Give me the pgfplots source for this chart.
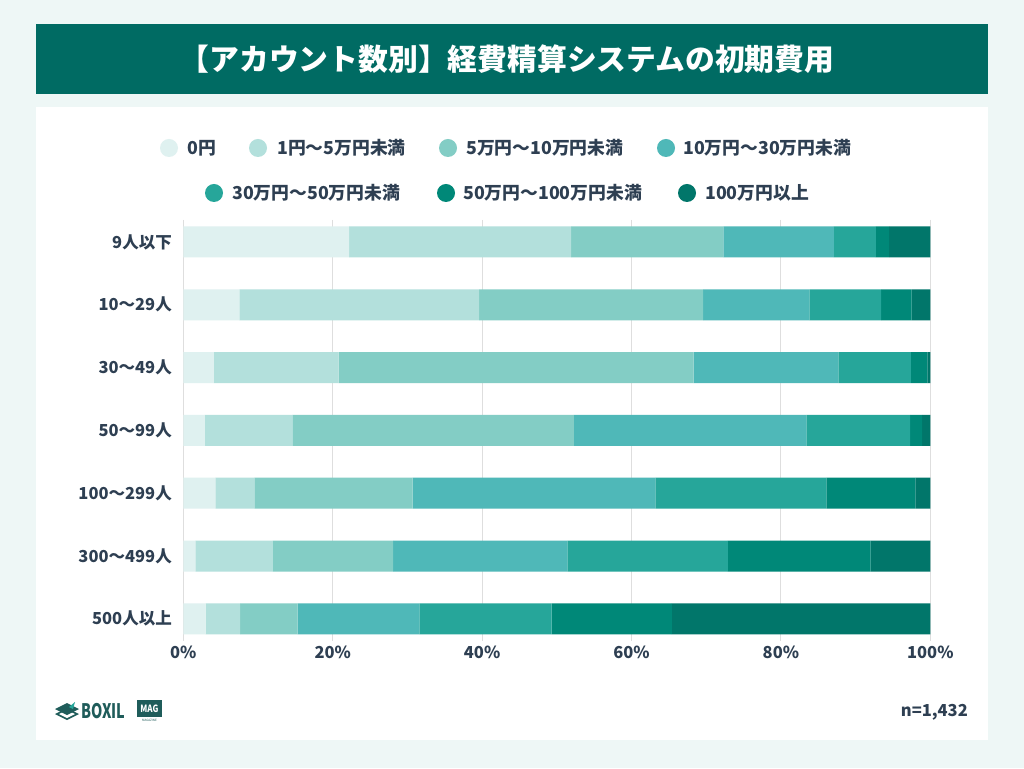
\documentclass[border=0pt]{standalone}
\usepackage{fontspec}
\setmainfont{Noto Sans CJK JP}
\usepackage{pgfplots}
\usepackage{pgfplotstable}
\pgfplotsset{compat=1.18}

\definecolor{pagebg}{HTML}{EEF7F6}
\definecolor{banner}{HTML}{006B63}
\definecolor{txt}{HTML}{2E3F52}
\definecolor{gridc}{HTML}{DEDEDE}
\definecolor{cA}{HTML}{DFF1F0}
\definecolor{cB}{HTML}{B3E0DC}
\definecolor{cC}{HTML}{83CDC5}
\definecolor{cD}{HTML}{4FB8B8}
\definecolor{cE}{HTML}{26A69A}
\definecolor{cF}{HTML}{008878}
\definecolor{cG}{HTML}{01766A}
\definecolor{logo}{HTML}{1F5C5A}

% share of companies by initial cost, one row per account-count group (top to bottom)
\pgfplotstableread{
idx  c0    c1    c2    c3    c4    c5    c6
0    22.2  29.7  20.4  14.8  5.6   1.8   5.5
1    7.5   32.1  30.0  14.2  9.6   4.1   2.5
2    4.1   16.7  47.5  19.4  9.7   2.2   0.4
3    2.9   11.7  37.7  31.1  13.9  1.6   1.1
4    4.3   5.2   21.2  32.5  22.9  11.9  2.0
5    1.6   10.4  16.1  23.3  21.5  19.1  8.0
6    3.0   4.6   7.7   16.3  17.7  16.1  34.6
}\costdata

\begin{document}
\begin{tikzpicture}
\begin{scope}[x=1pt,y=1pt]
% page, banner and panel
\fill[pagebg] (0,0) rectangle (1024,768);
\fill[banner] (36,768-94) rectangle (988,768-24);
\fill[white] (36,768-740) rectangle (988,768-107);
\node[text=white,font=\bfseries\fontsize{29.8}{32}\selectfont] at (507,768-59)
  {【アカウント数別】経費精算システムの初期費用};

% legend
\begin{scope}[every node/.style={anchor=west,text=txt,font=\bfseries\fontsize{17.8}{19}\selectfont,inner sep=0pt}]
\fill[cA] (169,768-148) circle (9); \node at (187,768-148) {0円};
\fill[cB] (258,768-148) circle (9); \node at (277,768-148) {1円～5万円未満};
\fill[cC] (448,768-148) circle (9); \node at (466,768-148) {5万円～10万円未満};
\fill[cD] (666,768-148) circle (9); \node at (683,768-148) {10万円～30万円未満};
\fill[cE] (214,768-193) circle (9); \node at (232,768-193) {30万円～50万円未満};
\fill[cF] (446,768-193) circle (9); \node at (463,768-193) {50万円～100万円未満};
\fill[cG] (687,768-193) circle (9); \node at (705,768-193) {100万円以上};
\end{scope}

% sample size
\node[anchor=east,text=txt,font=\bfseries\fontsize{16.5}{18}\selectfont,inner sep=0pt] at (968,768-712) {n=1,432};

% BOXIL MAG mark
\begin{scope}[shift={(67,768-711)}]
  \fill[logo] (-12,-3) -- (0,-9) -- (12,-3) -- (0,3) -- cycle;
  \fill[white] (-8,-3) -- (0,-7) -- (8,-3) -- (0,1) -- cycle;
  \fill[logo] (-12,2) -- (0,-4) -- (12,2) -- (0,8) -- cycle;
  \fill[cE] (2,4) -- (8,9) -- (6,2) -- cycle;
\end{scope}
\node[anchor=west,text=logo,font=\bfseries\fontsize{20}{20}\selectfont,xscale=0.72,inner sep=0pt] at (81,768-711) {BOXIL};
\fill[logo] (137,768-717) rectangle (162,768-700);
\node[text=white,font=\bfseries\fontsize{10}{10}\selectfont,xscale=0.8,inner sep=0pt] at (149.5,768-708.5) {MAG};
\node[text=logo,font=\fontsize{3}{3}\selectfont,inner sep=0pt] at (149.5,768-720) {MAGAZINE};
\end{scope}

\begin{axis}[
  at={(183.3pt,548pt)}, anchor=north west,
  scale only axis, width=747pt, height=420.8pt,
  xbar stacked, bar width=31pt,
  xmin=0, xmax=100, ymin=-0.35, ymax=6.35, y dir=reverse,
  axis line style={draw=none}, major tick length=0pt,
  xmajorgrids, grid style={gridc, line width=1pt},
  xtick={0,20,40,60,80,100},
  xticklabel={\pgfmathprintnumber{\tick}\%},
  /pgf/number format/assume math mode=true,
  ytick={0,1,2,3,4,5,6},
  yticklabels={9人以下,10～29人,30～49人,50～99人,100～299人,300～499人,500人以上},
  tick label style={text=txt,font=\bfseries\fontsize{16.5}{18}\selectfont},
  yticklabel style={xshift=-8pt},
  xticklabel style={yshift=-2pt},
  every axis plot/.append style={draw=none},
]
\addplot[fill=cA] table[x=c0,y=idx] {\costdata};
\addplot[fill=cB] table[x=c1,y=idx] {\costdata};
\addplot[fill=cC] table[x=c2,y=idx] {\costdata};
\addplot[fill=cD] table[x=c3,y=idx] {\costdata};
\addplot[fill=cE] table[x=c4,y=idx] {\costdata};
\addplot[fill=cF] table[x=c5,y=idx] {\costdata};
\addplot[fill=cG] table[x=c6,y=idx] {\costdata};
\end{axis}
\end{tikzpicture}
\end{document}
